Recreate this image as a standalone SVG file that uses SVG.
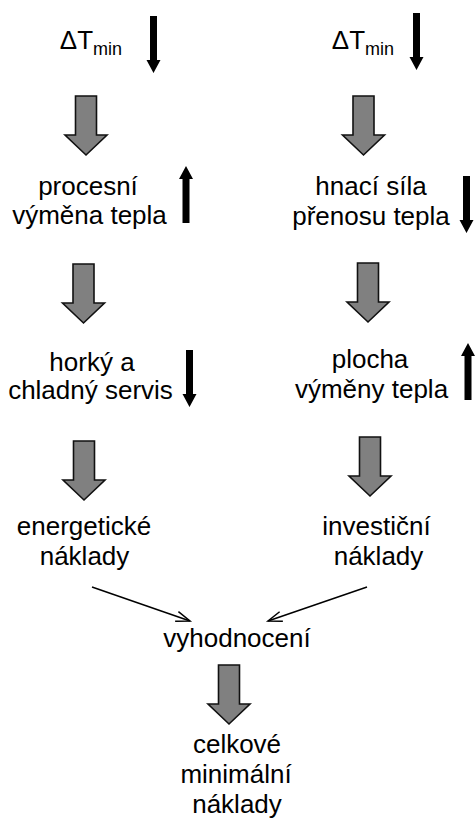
<svg xmlns="http://www.w3.org/2000/svg" width="475" height="818" viewBox="0 0 475 818">
<style>
text{font-family:"Liberation Sans",Arial,sans-serif;font-size:26px;fill:#000;text-anchor:middle}
.sub{font-size:18px}
.big{fill:#808080;stroke:#111;stroke-width:1.6;stroke-linejoin:miter}
.blk{fill:#000;stroke:none}
.thin{stroke:#000;stroke-width:1.5;fill:none}
</style>
<defs>
<path id="gray" d="M-10.5,0 H10.5 V39 H21 L0,59 L-21,39 H-10.5 Z"/>
<path id="bdown" d="M-3.5,0 H3.5 V44 H7 L0,57 L-7,44 H-3.5 Z"/>
<path id="bup" d="M-3.5,57 H3.5 V13 H7 L0,0 L-7,13 H-3.5 Z"/>
<marker id="open" viewBox="-16 -7 18 14" markerWidth="18" markerHeight="14" refX="0" refY="0" markerUnits="userSpaceOnUse" orient="auto">
<path d="M-14,-5 L0,0 L-14,5" fill="none" stroke="#000" stroke-width="1.5"/>
</marker>
</defs>

<g id="dtmin-left">
<text x="91" y="49" style="text-anchor:middle">ΔT<tspan class="sub" dy="6">min</tspan></text>
<use href="#bdown" x="153.5" y="16" class="blk"/>
</g>
<g id="dtmin-right">
<text x="363" y="49">ΔT<tspan class="sub" dy="6">min</tspan></text>
<use href="#bdown" x="416.5" y="13" class="blk"/>
</g>

<g id="procesni">
<text x="88" y="195">procesní</text>
<text x="89.5" y="224">výměna tepla</text>
<use href="#bup" x="186" y="166" class="blk"/>
</g>
<g id="hnaci">
<text x="371" y="195">hnací síla</text>
<text x="371" y="225">přenosu tepla</text>
<use href="#bdown" x="466.5" y="176" class="blk"/>
</g>

<g id="servis">
<text x="92" y="371">horký a</text>
<text x="90.5" y="399">chladný servis</text>
<use href="#bdown" x="189.5" y="350" class="blk"/>
</g>
<g id="plocha">
<text x="370" y="368">plocha</text>
<text x="371.5" y="398">výměny tepla</text>
<use href="#bup" x="468" y="343" class="blk"/>
</g>

<g id="energeticke">
<text x="84" y="535">energetické</text>
<text x="84.5" y="565">náklady</text>
</g>
<g id="investicni">
<text x="376.5" y="535">investiční</text>
<text x="378.5" y="565">náklady</text>
</g>

<g id="vyhodnoceni">
<text x="237" y="647">vyhodnocení</text>
</g>

<g id="celkove">
<text x="237" y="753">celkové</text>
<text x="236" y="783">minimální</text>
<text x="237" y="813">náklady</text>
</g>

<g id="connectors">
<use href="#gray" x="86" y="96" class="big"/>
<use href="#gray" x="363.5" y="96" class="big"/>
<use href="#gray" x="83.5" y="264" class="big"/>
<use href="#gray" x="368" y="263" class="big"/>
<use href="#gray" x="84" y="441" class="big"/>
<use href="#gray" x="370" y="437" class="big"/>
<use href="#gray" x="229" y="665" class="big"/>
<line class="thin" x1="92" y1="587" x2="190" y2="621" marker-end="url(#open)"/>
<line class="thin" x1="367" y1="587" x2="268" y2="621" marker-end="url(#open)"/>
</g>
</svg>
